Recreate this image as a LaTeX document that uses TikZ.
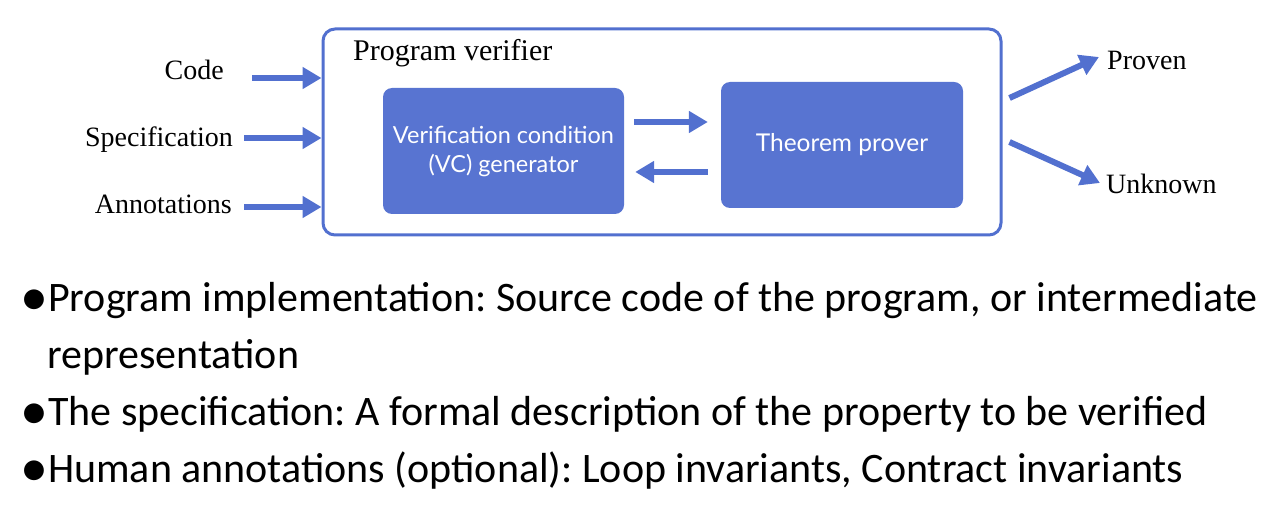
\documentclass[tikz,border=0pt]{standalone}
\usepackage{fontspec}
\setmainfont{Liberation Serif}
\newfontfamily\boxfont{Lato}
\newfontfamily\bulfont{Carlito}
\usetikzlibrary{arrows.meta}
\definecolor{vfill}{RGB}{88,116,209}
\definecolor{vline}{RGB}{82,112,207}
\tikzset{
  serif/.style={font=\fontsize{28}{32}\selectfont, inner sep=0pt},
  inbox/.style={fill=vfill, draw=none, rounded corners=9pt, text=white,
    font=\boxfont\fontsize{23.5}{29}\selectfont, align=center, inner sep=0pt},
  arr/.style={draw=vline, line width=6pt, -{Triangle[length=19pt,width=21pt]}},
  bul/.style={font=\bulfont\fontsize{42}{46}\selectfont, anchor=base west, inner sep=0pt},
  dot/.style={font=\bulfont\fontsize{56}{56}\selectfont, anchor=base east, inner sep=0pt}
}
\frenchspacing
\begin{document}
\begin{tikzpicture}[x=1pt,y=-1pt]
\useasboundingbox (0,0) rectangle (1280,521);
\node[draw=vline, line width=3pt, rounded corners=12pt, minimum width=678pt, minimum height=206pt, inner sep=0pt] (verifier) at (662,132) {};
\node[serif, anchor=west, font=\fontsize{30}{34}\selectfont] (title) at (353,53) {Program verifier};
\node[inbox, minimum width=241pt, minimum height=126pt] (vc) at (503.5,151) {Verification condition\\(VC) generator};
\node[inbox, minimum width=242pt, minimum height=126pt, font=\boxfont\fontsize{24.5}{29}\selectfont] (tp) at (842,145) {Theorem prover};
\node[serif, anchor=east] (code) at (224,70) {Code};
\node[serif, anchor=east] (spec) at (233,140) {Specification};
\node[serif, anchor=east] (ann) at (232,204) {Annotations};
\node[serif, anchor=west] (proven) at (1107,60) {Proven};
\node[serif, anchor=west] (unknown) at (1106,184) {Unknown};
\coordinate (c1) at (252,78);
\coordinate (c2) at (244,138);
\coordinate (c3) at (244,207);
\draw[arr] (c1) -- (c1 -| verifier.west);
\draw[arr] (c2) -- (c2 -| verifier.west);
\draw[arr] (c3) -- (c3 -| verifier.west);
\draw[arr] ([xshift=10pt,yshift=29pt]vc.east) -- ([xshift=-13pt,yshift=23pt]tp.west);
\draw[arr] ([xshift=-13pt,yshift=-27pt]tp.west) -- ([xshift=11pt,yshift=-21pt]vc.east);
\draw[arr] ([xshift=7pt,yshift=34pt]verifier.east) -- ([xshift=-8pt,yshift=3pt]proven.west);
\draw[arr] ([xshift=7pt,yshift=-10pt]verifier.east) -- ([xshift=-6pt,yshift=1pt]unknown.west);
\node[bul] (b1) at (48,312) {Program implementation: Source code of the program, or intermediate};
\node[bul] (b2) at (47,368) {representation};
\node[bul] (b3) at (48,425) {The specification: A formal description of the property to be verified};
\node[bul] (b4) at (48,482) {Human annotations (optional): Loop invariants, Contract invariants};
\node[dot] (d1) at ([xshift=1pt,yshift=-4pt]b1.base west) {\textbullet};
\node[dot] (d3) at ([xshift=1pt,yshift=-4pt]b3.base west) {\textbullet};
\node[dot] (d4) at ([xshift=1pt,yshift=-4pt]b4.base west) {\textbullet};
\end{tikzpicture}
\end{document}
